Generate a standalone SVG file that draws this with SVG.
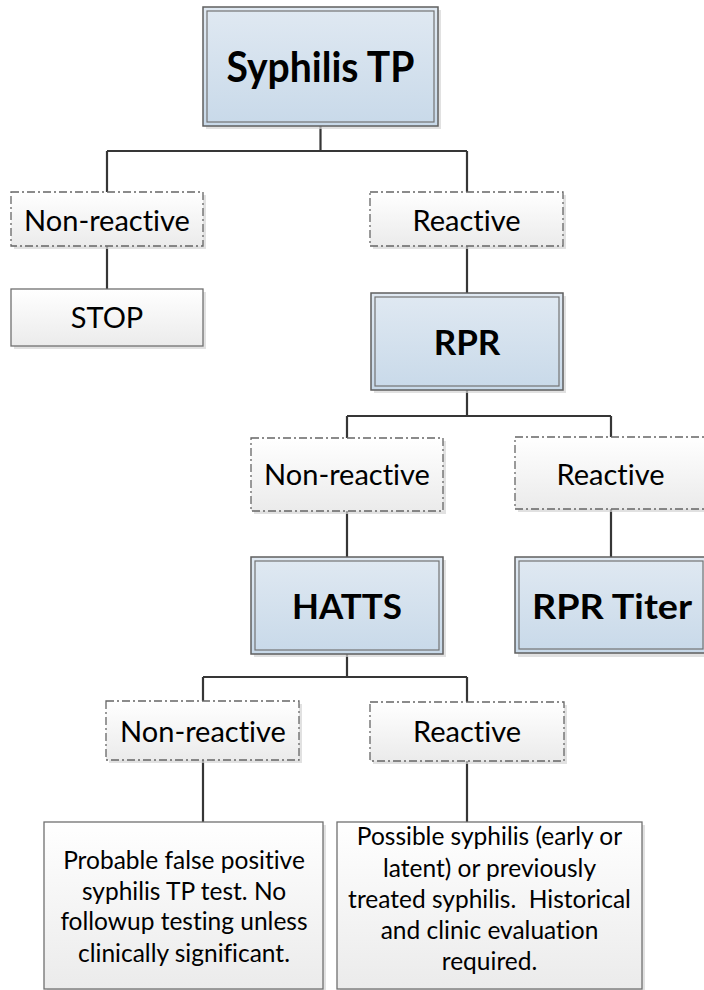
<svg xmlns="http://www.w3.org/2000/svg" width="704" height="990" viewBox="0 0 704 990">
<defs>
<linearGradient id="gBlue" x1="0" y1="0" x2="0" y2="1"><stop offset="0" stop-color="#e0e9f2"/><stop offset="1" stop-color="#c8d9e9"/></linearGradient>
<linearGradient id="gGray" x1="0" y1="0" x2="0" y2="1"><stop offset="0" stop-color="#ffffff"/><stop offset="1" stop-color="#ebebeb"/></linearGradient>
<style>
.sh{fill:#d4d4d4;opacity:0.7}
.blueO{fill:url(#gBlue);stroke:#5f5f5f;stroke-width:1.5}
.blueI{fill:none;stroke:#737373;stroke-width:1.2}
.dash{fill:url(#gGray);stroke:#666;stroke-width:1.3;stroke-dasharray:8 3 2 3}
.plain{fill:url(#gGray);stroke:#707070;stroke-width:1.3}
.t{font-family:Lato,"Liberation Sans",sans-serif;fill:#000;text-anchor:middle;font-variant-ligatures:none}
.title{font-weight:bold;font-size:35px}
.lab{font-size:29px}
.body{font-size:24.5px}
.con{fill:none;stroke:#363636;stroke-width:2.2}
</style>
</defs>
<rect width="704" height="990" fill="#fff"/>
<g id="connectors">
<path class="con" d="M320.5 126V151M107 151H467M107 151V192M467 151V192"/>
<path class="con" d="M107 246V289"/>
<path class="con" d="M467 246V293"/>
<path class="con" d="M467 390V416M347 416H611M347 416V438M611 416V437"/>
<path class="con" d="M347 511V557M611 509V557"/>
<path class="con" d="M347 654V677M203 677H467M203 677V701M467 677V702"/>
<path class="con" d="M203 760V822M467 761V822"/>
</g>
<g id="syphilisTP">
<rect class="sh" x="206" y="10" width="235" height="119"/>
<rect class="blueO" x="203" y="7" width="235" height="119"/>
<rect class="blueI" x="207" y="11" width="227" height="111"/>
<text class="t title" x="320.5" y="82" textLength="188" lengthAdjust="spacingAndGlyphs" style="font-size:42px">Syphilis TP</text>
</g>
<g id="nonreactive1">
<rect class="sh" x="14" y="195" width="192" height="54"/>
<rect class="dash" x="11" y="192" width="192" height="54"/>
<text class="t lab" x="107" y="231">Non-reactive</text>
</g>
<g id="stop">
<rect class="sh" x="14" y="292" width="192" height="57"/>
<rect class="plain" x="11" y="289" width="192" height="57"/>
<text class="t lab" x="107" y="328">STOP</text>
</g>
<g id="reactive1">
<rect class="sh" x="373" y="195" width="193" height="54"/>
<rect class="dash" x="370" y="192" width="193" height="54"/>
<text class="t lab" x="466.5" y="231">Reactive</text>
</g>
<g id="rpr">
<rect class="sh" x="374" y="296" width="192" height="97"/>
<rect class="blueO" x="371" y="293" width="192" height="97"/>
<rect class="blueI" x="375" y="297" width="184" height="89"/>
<text class="t title" x="467" y="355">RPR</text>
</g>
<g id="nonreactive2">
<rect class="sh" x="254" y="441" width="192" height="73"/>
<rect class="dash" x="251" y="438" width="192" height="73"/>
<text class="t lab" x="347" y="485">Non-reactive</text>
</g>
<g id="reactive2">
<rect class="sh" x="518" y="440" width="192" height="72"/>
<rect class="dash" x="515" y="437" width="192" height="72"/>
<text class="t lab" x="610.5" y="485">Reactive</text>
</g>
<g id="hatts">
<rect class="sh" x="254" y="560" width="192" height="97"/>
<rect class="blueO" x="251" y="557" width="192" height="97"/>
<rect class="blueI" x="255" y="561" width="184" height="89"/>
<text class="t title" x="347" y="619">HATTS</text>
</g>
<g id="rprTiter">
<rect class="sh" x="518" y="560" width="192" height="97"/>
<rect class="blueO" x="515" y="557" width="192" height="96"/>
<rect class="blueI" x="519" y="561" width="184" height="88"/>
<text class="t title" x="612" y="619" textLength="160" lengthAdjust="spacingAndGlyphs">RPR Titer</text>
</g>
<g id="nonreactive3">
<rect class="sh" x="109" y="704" width="193" height="59"/>
<rect class="dash" x="106" y="701" width="193" height="59"/>
<text class="t lab" x="203" y="742">Non-reactive</text>
</g>
<g id="reactive3">
<rect class="sh" x="373" y="705" width="194" height="59"/>
<rect class="dash" x="370" y="702" width="194" height="59"/>
<text class="t lab" x="467" y="742">Reactive</text>
</g>
<g id="falsePositive">
<rect class="sh" x="47" y="825" width="279" height="167"/>
<rect class="plain" x="44" y="822" width="279" height="167"/>
<text class="t body" x="184" y="869">Probable false positive</text>
<text class="t body" x="184" y="900">syphilis TP test. No</text>
<text class="t body" x="184" y="930">followup testing unless</text>
<text class="t body" x="184" y="962">clinically significant.</text>
</g>
<g id="possibleSyphilis">
<rect class="sh" x="340" y="825" width="305" height="167"/>
<rect class="plain" x="337" y="822" width="305" height="167"/>
<text class="t body" x="489.5" y="845">Possible syphilis (early or</text>
<text class="t body" x="489.5" y="877">latent) or previously</text>
<text class="t body" x="489.5" y="908" xml:space="preserve">treated syphilis.  Historical</text>
<text class="t body" x="489.5" y="939">and clinic evaluation</text>
<text class="t body" x="489.5" y="970">required.</text>
</g>
</svg>
